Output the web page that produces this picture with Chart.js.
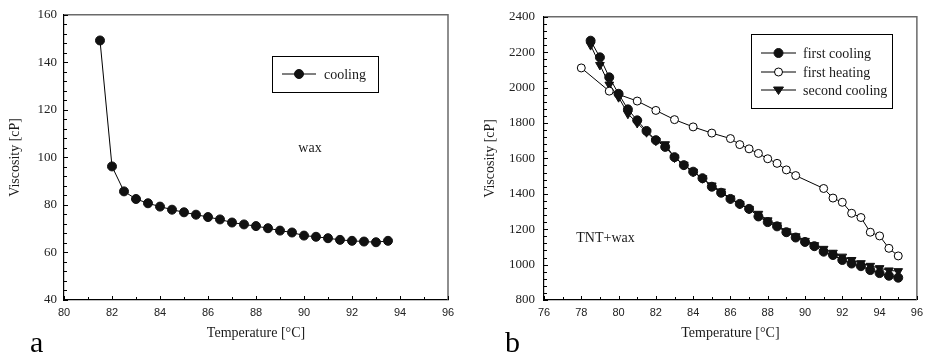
<!DOCTYPE html>
<html>
<head>
<meta charset="utf-8">
<script src="https://cdn.jsdelivr.net/npm/chart.js@4.4.0/dist/chart.umd.min.js"></script>
<style>
  html, body { margin: 0; padding: 0; background: #fff; }
  #wrap { position: relative; width: 929px; height: 354px; }
  canvas { position: absolute; top: 0; }
</style>
</head>
<body>
<div id="wrap">
  <canvas id="chartA" width="465" height="354" style="left:0px"></canvas>
  <canvas id="chartB" width="464" height="354" style="left:465px"></canvas>
</div>
<script>
// panel a: wax, cooling
const waxTemps = [81.5, 82, 82.5, 83, 83.5, 84, 84.5, 85, 85.5, 86, 86.5, 87, 87.5,
                  88, 88.5, 89, 89.5, 90, 90.5, 91, 91.5, 92, 92.5, 93, 93.5];
const waxCooling = [149.2, 96.2, 85.7, 82.5, 80.7, 79.3, 78.0, 76.9, 75.9, 74.9, 73.9, 72.6, 71.8,
                    71.1, 70.2, 69.2, 68.4, 67.1, 66.6, 66.0, 65.3, 64.9, 64.6, 64.3, 64.9];

// panel b: TNT+wax
const coolTemps = [78.5, 79, 79.5, 80, 80.5, 81, 81.5, 82, 82.5, 83, 83.5, 84, 84.5, 85, 85.5, 86, 86.5,
                   87, 87.5, 88, 88.5, 89, 89.5, 90, 90.5, 91, 91.5, 92, 92.5, 93, 93.5, 94, 94.5, 95];
const firstCooling = [2265, 2171, 2058, 1965, 1877, 1815, 1755, 1703, 1665, 1607, 1562, 1525, 1488, 1440, 1406, 1371, 1343,
                      1315, 1272, 1240, 1216, 1183, 1153, 1128, 1104, 1073, 1054, 1026, 1006, 991, 969, 952, 937, 926];
const secondCooling = [2240, 2128, 2017, 1946, 1852, 1800, 1748, 1700, 1680, 1605, 1565, 1525, 1488, 1447, 1413, 1374, 1343,
                       1315, 1287, 1250, 1222, 1188, 1160, 1134, 1110, 1089, 1067, 1045, 1026, 1008, 993, 980, 967, 963];
const heatTemps = [78, 79.5, 81, 82, 83, 84, 85, 86, 86.5, 87, 87.5, 88, 88.5, 89, 89.5,
                   91, 91.5, 92, 92.5, 93, 93.5, 94, 94.5, 95];
const firstHeating = [2111, 1980, 1924, 1871, 1819, 1778, 1743, 1712, 1678, 1654, 1628, 1598, 1572, 1535, 1503,
                      1430, 1376, 1352, 1290, 1266, 1183, 1162, 1092, 1049];

const SERIF = '"Liberation Serif", "Times New Roman", serif';
const SANS = '"Liberation Sans", Arial, sans-serif';

function pairs(xs, ys) {
    return xs.map(function (x, i) { return { x: x, y: ys[i] }; });
}

function drawMarker(ctx, ds, x, y) {
    ctx.save();
    ctx.fillStyle = ds.pointBackgroundColor;
    ctx.strokeStyle = ds.pointBorderColor;
    ctx.lineWidth = ds.pointBorderWidth || 1;
    const r = ds.pointRadius;
    ctx.beginPath();
    if (ds.pointStyle === 'triangle') {
        ctx.moveTo(x - r, y - r * 0.6);
        ctx.lineTo(x + r, y - r * 0.6);
        ctx.lineTo(x, y + r * 0.9);
        ctx.closePath();
    } else {
        ctx.arc(x, y, r, 0, Math.PI * 2);
    }
    ctx.fill();
    ctx.stroke();
    ctx.restore();
}

// inward tick marks, frame on top/right, legend box and text notes
const decorations = {
    id: 'decorations',
    afterDatasetsDraw(chart, args, opts) {
        const ctx = chart.ctx;
        const area = chart.chartArea;
        const xs = chart.scales.x, ys = chart.scales.y;
        ctx.save();
        // top & right frame
        ctx.strokeStyle = '#6a6a6a';
        ctx.lineWidth = 1.5;
        ctx.beginPath();
        ctx.moveTo(area.left, area.top);
        ctx.lineTo(area.right, area.top);
        ctx.lineTo(area.right, area.bottom);
        ctx.stroke();
        // ticks
        ctx.strokeStyle = '#000';
        ctx.lineWidth = 1;
        ctx.beginPath();
        for (let v = xs.min; v <= xs.max + 1e-9; v += opts.xMinor) {
            const px = Math.round(xs.getPixelForValue(v)) + 0.5;
            const len = Math.abs(v / opts.xMajor - Math.round(v / opts.xMajor)) < 1e-6 ? 4 : 3;
            ctx.moveTo(px, area.bottom);
            ctx.lineTo(px, area.bottom - len);
        }
        for (let v = ys.min; v <= ys.max + 1e-9; v += opts.yMinor) {
            const py = Math.round(ys.getPixelForValue(v)) + 0.5;
            const len = Math.abs(v / opts.yMajor - Math.round(v / opts.yMajor)) < 1e-6 ? 4 : 3;
            ctx.moveTo(area.left, py);
            ctx.lineTo(area.left + len, py);
        }
        ctx.stroke();

        // legend box
        const lg = opts.legend;
        ctx.strokeStyle = '#000';
        ctx.lineWidth = 1;
        ctx.strokeRect(lg.x + 0.5, lg.y + 0.5, lg.w, lg.h);
        ctx.font = '14px ' + SERIF;
        ctx.fillStyle = '#1a1a1a';
        ctx.textBaseline = 'middle';
        ctx.textAlign = 'left';
        chart.data.datasets.forEach(function (ds, i) {
            const ry = lg.rows[i];
            ctx.strokeStyle = '#000';
            ctx.lineWidth = 1;
            ctx.beginPath();
            ctx.moveTo(lg.lineX0, ry);
            ctx.lineTo(lg.lineX1, ry);
            ctx.stroke();
            drawMarker(ctx, ds, (lg.lineX0 + lg.lineX1) / 2, ry);
            ctx.fillStyle = '#1a1a1a';
            ctx.fillText(ds.label, lg.textX, ry + 1);
        });

        // notes in data coordinates
        ctx.textAlign = 'center';
        opts.notes.forEach(function (n) {
            ctx.fillText(n.text, xs.getPixelForValue(n.x), ys.getPixelForValue(n.y));
        });

        // panel letter
        ctx.font = '30px ' + SERIF;
        ctx.textAlign = 'left';
        ctx.textBaseline = 'alphabetic';
        ctx.fillStyle = '#000';
        ctx.fillText(opts.panel.text, opts.panel.x, opts.panel.y);
        ctx.restore();
    }
};

function makeChart(id, datasets, cfg) {
    return new Chart(document.getElementById(id), {
        type: 'scatter',
        data: { datasets: datasets },
        options: {
            responsive: false,
            animation: false,
            devicePixelRatio: 1,
            events: [],
            layout: { padding: cfg.padding },
            plugins: {
                legend: { display: false },
                tooltip: { enabled: false },
                decorations: cfg.deco
            },
            scales: {
                x: {
                    type: 'linear',
                    min: cfg.xMin, max: cfg.xMax,
                    afterFit: function (s) { s.height = 54; },
                    grid: { display: false, drawTicks: false },
                    border: { display: true, color: '#000', width: 1.2 },
                    ticks: {
                        stepSize: 2, padding: 6, maxRotation: 0, autoSkip: false,
                        color: '#222', font: { family: SANS, size: 11 },
                        callback: function (v) { return String(v); }
                    },
                    title: {
                        display: true, text: 'Temperature [°C]', color: '#1a1a1a',
                        font: { family: SERIF, size: 14 }, padding: { top: 0, bottom: 12 }
                    }
                },
                y: {
                    type: 'linear',
                    min: cfg.yMin, max: cfg.yMax,
                    afterFit: function (s) { s.width = cfg.yWidth; },
                    grid: { display: false, drawTicks: false },
                    border: { display: true, color: '#000', width: 1.2 },
                    ticks: {
                        stepSize: cfg.yStep, padding: cfg.yPad, autoSkip: false,
                        color: '#222', font: { family: SERIF, size: 13 },
                        callback: function (v) { return String(v); }
                    },
                    title: {
                        display: true, text: 'Viscosity [cP]', color: '#1a1a1a',
                        font: { family: SERIF, size: 14 }, padding: { top: cfg.yTitlePad, bottom: 0 }
                    }
                }
            }
        },
        plugins: [decorations]
    });
}

const filled = {
    showLine: true, borderColor: '#000', borderWidth: 1,
    pointStyle: 'circle', pointRadius: 4.5,
    pointBackgroundColor: '#111', pointBorderColor: '#111', pointBorderWidth: 1
};

makeChart('chartA', [
    Object.assign({ label: 'cooling', data: pairs(waxTemps, waxCooling) }, filled)
], {
    padding: { left: 0, top: 14, right: 17, bottom: 0 },
    xMin: 80, xMax: 96, yMin: 40, yMax: 160, yStep: 20,
    yWidth: 64, yPad: 7, yTitlePad: 7,
    deco: {
        xMajor: 2, xMinor: 1, yMajor: 20, yMinor: 4,
        legend: { x: 272, y: 56, w: 106, h: 36, lineX0: 282, lineX1: 316, textX: 324, rows: [74] },
        notes: [{ text: 'wax', x: 90.25, y: 104 }],
        panel: { text: 'a', x: 30, y: 352 }
    }
});

makeChart('chartB', [
    Object.assign({ label: 'first cooling', data: pairs(coolTemps, firstCooling) }, filled),
    {
        label: 'first heating', data: pairs(heatTemps, firstHeating),
        showLine: true, borderColor: '#000', borderWidth: 1,
        pointStyle: 'circle', pointRadius: 4,
        pointBackgroundColor: '#fff', pointBorderColor: '#000', pointBorderWidth: 1
    },
    {
        label: 'second cooling', data: pairs(coolTemps, secondCooling),
        showLine: true, borderColor: '#000', borderWidth: 1,
        pointStyle: 'triangle', pointRotation: 180, pointRadius: 5,
        pointBackgroundColor: '#111', pointBorderColor: '#111', pointBorderWidth: 1
    }
], {
    padding: { left: 0, top: 15, right: 3, bottom: 0 },
    xMin: 76, xMax: 96, yMin: 800, yMax: 2400, yStep: 200,
    yWidth: 79, yPad: 9, yTitlePad: 17,
    deco: {
        xMajor: 2, xMinor: 1, yMajor: 200, yMinor: 40,
        legend: { x: 286, y: 34, w: 141, h: 74, lineX0: 296, lineX1: 331, textX: 338, rows: [53, 72, 90] },
        notes: [{ text: 'TNT+wax', x: 79.3, y: 1147 }],
        panel: { text: 'b', x: 40, y: 352 }
    }
});
</script>
</body>
</html>
